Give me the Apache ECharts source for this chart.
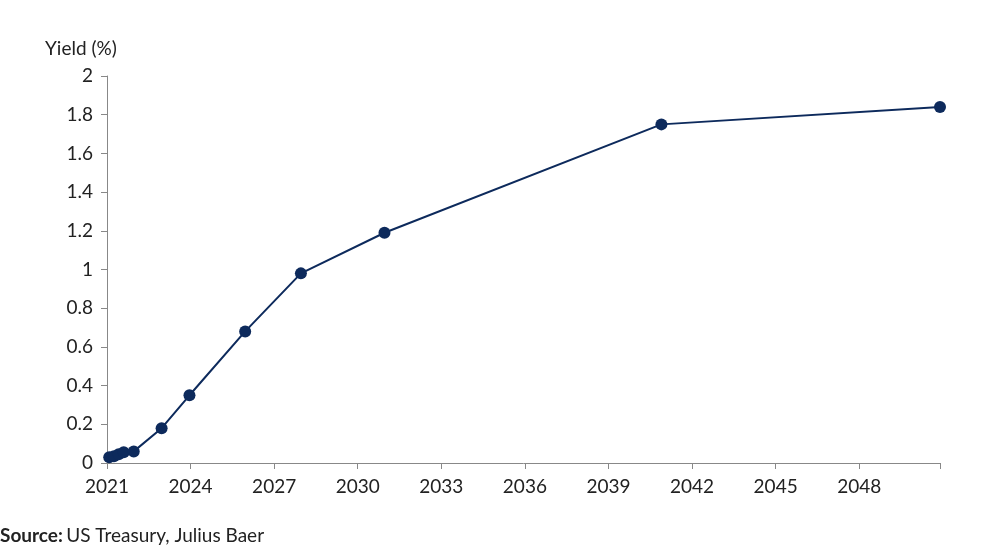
<!DOCTYPE html><html><head><meta charset="utf-8"><script src="https://cdn.jsdelivr.net/npm/echarts@6/dist/echarts.min.js"></script></head><body style="margin:0;background:#fff"><div id="c" style="width:984px;height:552px"></div><script>
const years=[2021.08,2021.25,2021.42,2021.6,2021.96,2022.96,2023.96,2025.96,2027.96,2030.96,2040.9,2050.9];
const yields=[0.03,0.035,0.045,0.055,0.06,0.18,0.35,0.68,0.98,1.19,1.75,1.84];
const yTicks=[0,0.2,0.4,0.6,0.8,1,1.2,1.4,1.6,1.8,2];
const c=echarts.init(document.getElementById('c'));
const txt={color:'#222',fontSize:19,fontFamily:'Lato'};
c.setOption({
grid:{left:107,right:44,top:76,bottom:89},
xAxis:{type:'value',min:2021,max:2050.9,interval:3,axisLine:{lineStyle:{color:'#888'}},axisTick:{show:true,length:6,lineStyle:{color:'#888'}},splitLine:{show:false},
axisLabel:Object.assign({margin:14,formatter:v=>(v<=2048?String(v):'')},txt)},
yAxis:{type:'value',min:0,max:2,interval:0.2,name:'Yield (%)',nameLocation:'end',nameGap:18,nameTextStyle:Object.assign({align:'left',padding:[0,0,0,-62]},txt),
axisLine:{show:true,lineStyle:{color:'#888'}},axisTick:{show:true,length:6,lineStyle:{color:'#888'}},splitLine:{show:false},
axisLabel:Object.assign({margin:14,formatter:v=>String(+v.toFixed(1))},txt)},
series:[{type:'line',data:years.map((x,i)=>[x,yields[i]]),symbol:'circle',symbolSize:12,lineStyle:{color:'#0d2a5c',width:2},itemStyle:{color:'#0d2a5c'}}],
graphic:[{type:'text',left:0,top:526,style:{rich:{b:{fontWeight:'bold',fontSize:19,fontFamily:'Lato',fill:'#222'},n:{fontSize:19,fontFamily:'Lato',fill:'#222'}},text:'{b|Source:} {n|US Treasury, Julius Baer}'}}]
});
</script></body></html>
